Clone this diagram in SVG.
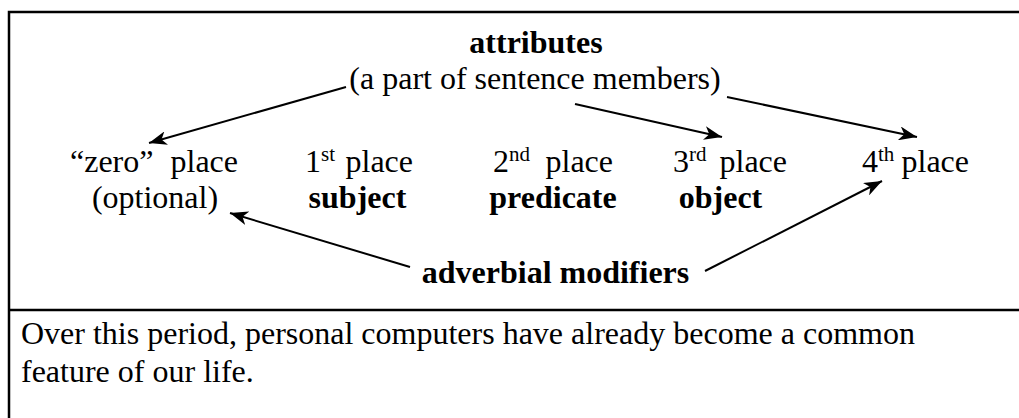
<svg xmlns="http://www.w3.org/2000/svg" width="1019" height="418" viewBox="0 0 1019 418">
<style>
.t { font-family: 'Liberation Serif', Tinos, 'Times New Roman', Times, 'DejaVu Serif', serif; font-size: 32px; fill: #000; }
.b { font-weight: bold; }
.sup { font-size: 21px; }
.frame { fill: none; stroke: #000; stroke-width: 2.5; }
.conn { fill: none; stroke: #000; stroke-width: 2; marker-end: url(#ah); }
</style>
<defs>
<marker id="ah" viewBox="0 0 18 14" refX="18" refY="7" markerWidth="18" markerHeight="14" markerUnits="userSpaceOnUse" orient="auto">
<path d="M0,0 L18,7 L0,14 L5,7 Z" fill="#000"/>
</marker>
</defs>
<rect width="1019" height="418" fill="#fff"/>
<g id="frame">
<path class="frame" d="M9,418 L9,12 L1019,12"/>
<line class="frame" x1="9" y1="310" x2="1019" y2="310"/>
</g>
<g id="attributes">
<text class="t b" x="536" y="53" text-anchor="middle">attributes</text>
<text class="t" x="535" y="89" text-anchor="middle">(a part of sentence members)</text>
</g>
<g id="zero-place">
<text class="t" x="70" y="172">“zero”<tspan x="170.5">place</tspan></text>
<text class="t" x="155" y="208" text-anchor="middle">(optional)</text>
</g>
<g id="first-place">
<text class="t" x="305" y="172">1<tspan class="sup" dy="-11">st</tspan><tspan x="345.5" dy="11">place</tspan></text>
<text class="t b" x="357.5" y="208" text-anchor="middle">subject</text>
</g>
<g id="second-place">
<text class="t" x="493" y="172">2<tspan class="sup" dy="-11">nd</tspan><tspan x="545.5" dy="11">place</tspan></text>
<text class="t b" x="553" y="208" text-anchor="middle">predicate</text>
</g>
<g id="third-place">
<text class="t" x="673" y="172">3<tspan class="sup" dy="-11">rd</tspan><tspan x="719.5" dy="11">place</tspan></text>
<text class="t b" x="720.5" y="208" text-anchor="middle">object</text>
</g>
<g id="fourth-place">
<text class="t" x="862" y="172">4<tspan class="sup" dy="-11">th</tspan><tspan x="901.5" dy="11">place</tspan></text>
</g>
<g id="adverbial-modifiers">
<text class="t b" x="555.5" y="283" text-anchor="middle">adverbial modifiers</text>
</g>
<g id="example">
<text class="t" x="21" y="344">Over this period, personal computers have already become a common</text>
<text class="t" x="21" y="382">feature of our life.</text>
</g>
<g id="connectors">
<line class="conn" x1="346" y1="87" x2="149" y2="143"/>
<line class="conn" x1="575" y1="104" x2="722" y2="137"/>
<line class="conn" x1="727" y1="97" x2="917" y2="137"/>
<line class="conn" x1="410" y1="267" x2="230" y2="213"/>
<line class="conn" x1="705" y1="271" x2="882" y2="181"/>
</g>
</svg>
